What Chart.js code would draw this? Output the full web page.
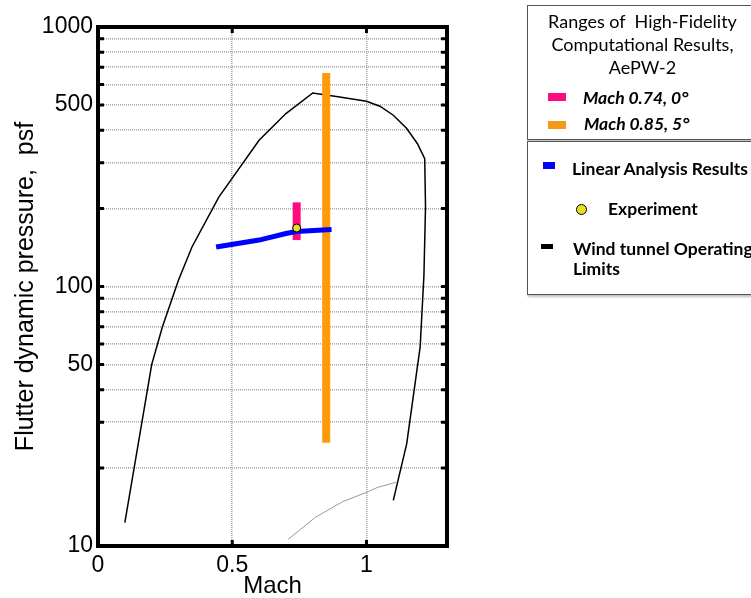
<!DOCTYPE html>
<html>
<head>
<meta charset="utf-8">
<script src="https://cdn.jsdelivr.net/npm/chart.js@4.4.1/dist/chart.umd.min.js"></script>
<style>
  body { margin: 0; background: #fff; }
  #wrap { position: relative; width: 751px; height: 598px; overflow: hidden; font-family: Lato, 'Open Sans', sans-serif; color: #000; }
  canvas { position: absolute; left: 0; top: 0; }
  .box { position: absolute; left: 527px; width: 240px; border: 1px solid #555; box-shadow: 1px 2px 2px rgba(0,0,0,0.25); background: #fff; }
  .t { position: absolute; white-space: nowrap; font-size: 17.5px; line-height: 20px; }
  .b { font-weight: bold; }
  .sw { position: absolute; }
</style>
</head>
<body>
<div id="wrap">
  <canvas id="flutterChart" width="751" height="598"></canvas>
  <div class="box" style="top:5px;height:133px;">
    <div class="t" style="left:0;width:229px;top:4px;text-align:center;line-height:23px;font-size:18px;">Ranges of&nbsp; High-Fidelity<br>Computational Results,<br>AePW-2</div>
    <div class="sw" style="left:20px;top:87px;width:18px;height:8px;background:#ff0a7f;"></div>
    <div class="t b" style="left:55px;top:82px;font-style:italic;">Mach 0.74, 0°</div>
    <div class="sw" style="left:20px;top:115px;width:18px;height:8px;background:#f39a1a;"></div>
    <div class="t b" style="left:56px;top:108px;font-style:italic;">Mach 0.85, 5°</div>
  </div>
  <div class="box" style="top:141px;height:152px;">
    <div class="sw" style="left:15px;top:20px;width:12px;height:7px;background:#0000ff;"></div>
    <div class="t b" style="left:44px;top:17px;">Linear Analysis Results</div>
    <div class="sw" style="left:48px;top:62px;width:9px;height:9px;border-radius:50%;background:#e5e020;border:1.5px solid #000;"></div>
    <div class="t b" style="left:80px;top:57px;">Experiment</div>
    <div class="sw" style="left:13px;top:102px;width:12px;height:5px;background:#000;"></div>
    <div class="t b" style="left:45px;top:97px;">Wind tunnel Operating</div>
    <div class="t b" style="left:45px;top:117px;">Limits</div>
  </div>
</div>
<script>
const machTicks = [0, 0.5, 1];
const qTicks = [10, 20, 30, 40, 50, 60, 70, 80, 90, 100, 200, 300, 400, 500, 600, 700, 800, 900, 1000];
const qLabels = [10, 50, 100, 500, 1000];

// wind tunnel operating limits
const tunnelMach = [0.1, 0.2, 0.24, 0.3, 0.35, 0.45, 0.6, 0.7, 0.8, 0.9, 1.0, 1.05, 1.1, 1.15, 1.19, 1.217, 1.22, 1.214, 1.2, 1.15, 1.1];
const tunnelQ = [12.3, 50, 70, 106, 142, 221, 366, 464, 557, 537, 517, 495, 457, 406, 355, 311, 203, 110, 58.5, 24.8, 15];

const lowMach = [0.708, 0.81, 0.91, 1.0, 1.04, 1.11];
const lowQ = [10.6, 12.9, 14.8, 16.1, 16.8, 17.6];

const linearMach = [0.44, 0.6, 0.7, 0.74, 0.87];
const linearQ = [142, 151, 160, 163, 166];

const range074Mach = [0.74, 0.74];
const range074Q = [151, 211];
const range085Mach = [0.85, 0.85];
const range085Q = [25, 665];

const expMach = [0.74];
const expQ = [168];

const pts = (xs, ys) => xs.map((x, i) => ({ x: x, y: ys[i] }));

const frame = {
  id: 'frame',
  afterDraw(chart) {
    const ctx = chart.ctx, a = chart.chartArea;
    const xs = chart.scales.x, ys = chart.scales.y;
    ctx.save();
    ctx.strokeStyle = '#000';
    ctx.lineWidth = 3;
    qTicks.slice(1, -1).forEach(v => {
      const y = ys.getPixelForValue(v);
      ctx.beginPath();
      ctx.moveTo(a.left, y); ctx.lineTo(a.left + 6, y);
      ctx.moveTo(a.right - 6, y); ctx.lineTo(a.right, y);
      ctx.stroke();
    });
    machTicks.slice(1).forEach(v => {
      const x = xs.getPixelForValue(v);
      ctx.beginPath();
      ctx.moveTo(x, a.top); ctx.lineTo(x, a.top + 6);
      ctx.moveTo(x, a.bottom - 6); ctx.lineTo(x, a.bottom);
      ctx.stroke();
    });
    ctx.lineWidth = 4;
    ctx.strokeRect(a.left, a.top, a.right - a.left, a.bottom - a.top);
    ctx.restore();
  }
};

new Chart(document.getElementById('flutterChart'), {
  type: 'scatter',
  data: {
    datasets: [
      { label: 'Experiment', data: pts(expMach, expQ), pointRadius: 4, pointBackgroundColor: '#e5e020', pointBorderColor: '#000', pointBorderWidth: 1, order: 0 },
      { label: 'Linear Analysis Results', data: pts(linearMach, linearQ), showLine: true, borderColor: '#0000ff', borderWidth: 5, pointRadius: 0, order: 1 },
      { label: 'Mach 0.74, 0°', data: pts(range074Mach, range074Q), showLine: true, borderColor: '#ff0a7f', borderWidth: 8, borderCapStyle: 'butt', pointRadius: 0, order: 2 },
      { label: 'Mach 0.85, 5°', data: pts(range085Mach, range085Q), showLine: true, borderColor: '#ff9a0a', borderWidth: 8, borderCapStyle: 'butt', pointRadius: 0, order: 3 },
      { label: 'Wind tunnel Operating Limits', data: pts(tunnelMach, tunnelQ), showLine: true, borderColor: '#000', borderWidth: 1.5, pointRadius: 0, order: 4 },
      { label: 'low', data: pts(lowMach, lowQ), showLine: true, borderColor: '#999', borderWidth: 1, pointRadius: 0, order: 5 }
    ]
  },
  options: {
    responsive: false,
    animation: false,
    layout: { padding: { top: 27, right: 304, left: 0, bottom: 0 } },
    plugins: { legend: { display: false }, tooltip: { enabled: false } },
    scales: {
      x: {
        type: 'linear',
        min: 0,
        max: 1.3,
        afterBuildTicks: s => { s.ticks = machTicks.map(v => ({ value: v })); },
        afterFit: s => { s.height = 52; },
        grid: { color: '#aaaaaa', lineWidth: 1.6, drawTicks: false },
        border: { display: false, dash: [1, 1] },
        ticks: { color: '#000', padding: 6, font: { family: 'Liberation Sans, Arial', size: 23 }, callback: v => String(v) },
        title: { display: true, text: 'Mach', color: '#000', padding: 0, font: { family: 'Liberation Sans, Arial', size: 24, lineHeight: 1 } }
      },
      y: {
        type: 'logarithmic',
        min: 10,
        max: 1000,
        afterBuildTicks: s => { s.ticks = qTicks.map(v => ({ value: v })); },
        afterFit: s => { s.width = 98; },
        grid: { color: '#aaaaaa', lineWidth: 1.6, drawTicks: false },
        border: { display: false, dash: [1, 1] },
        ticks: { color: '#000', padding: 5, autoSkip: false, font: { family: 'Liberation Sans, Arial', size: 23 },
          callback: v => qLabels.includes(v) ? String(v) : '' },
        title: { display: true, text: 'Flutter dynamic pressure,  psf', color: '#000', padding: { top: 11, bottom: 0 }, font: { family: 'Liberation Sans, Arial', size: 25 } }
      }
    }
  },
  plugins: [frame]
});
</script>
</body>
</html>
